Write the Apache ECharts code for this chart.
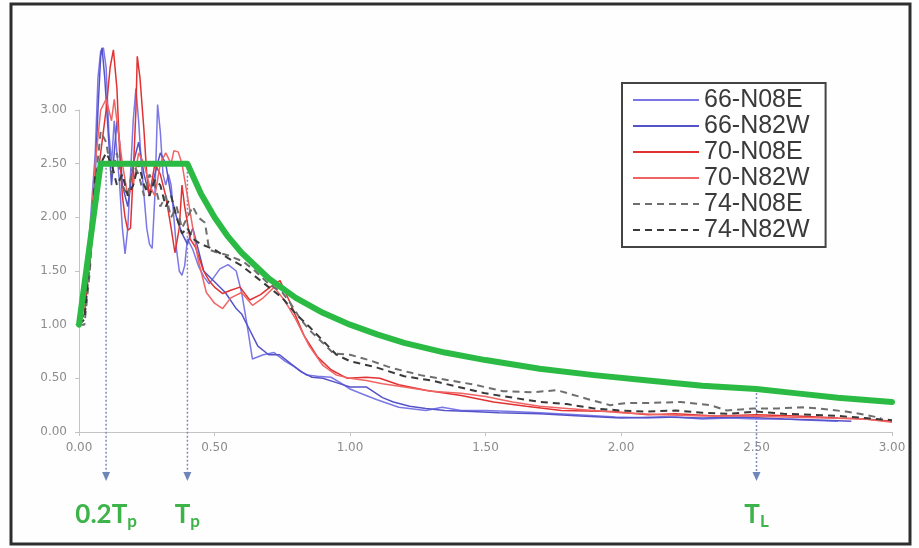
<!DOCTYPE html>
<html>
<head>
<meta charset="utf-8">
<title>Response spectra</title>
<script src="https://cdn.jsdelivr.net/npm/echarts@6/dist/echarts.min.js"></script>
<style>
  html, body { margin: 0; padding: 0; background: #fff; }
  #chart { width: 919px; height: 548px; }
</style>
</head>
<body>
<div id="chart"></div>
<script>
// tick labels
var xTicks = [0, 0.5, 1.0, 1.5, 2.0, 2.5, 3.0]
var yTicks = [0, 0.5, 1.0, 1.5, 2.0, 2.5, 3.0]

// recorded spectra [T, Sa/PGA]
var s66N08E = [[0,1.0],[0.02,1.3],[0.04,1.9],[0.06,2.6],[0.07,3.3],[0.08,3.55],[0.09,3.58],[0.10,3.4],[0.11,2.8],[0.12,2.5],[0.13,2.9],[0.14,2.6],[0.15,2.3],[0.16,1.9],[0.17,1.66],[0.18,1.9],[0.19,2.4],[0.2,2.9],[0.21,3.2],[0.22,2.9],[0.23,2.5],[0.24,2.2],[0.25,1.9],[0.26,1.75],[0.27,1.71],[0.28,2.2],[0.29,3.05],[0.30,2.8],[0.31,2.4],[0.32,2.3],[0.33,2.4],[0.34,2.3],[0.35,2.0],[0.36,1.7],[0.37,1.5],[0.38,1.46],[0.39,1.55],[0.40,1.8],[0.42,1.7],[0.44,1.55],[0.46,1.45],[0.48,1.38],[0.50,1.45],[0.52,1.52],[0.55,1.56],[0.58,1.5],[0.6,1.3],[0.62,1.0],[0.64,0.68],[0.68,0.72],[0.72,0.74],[0.76,0.66],[0.8,0.6],[0.84,0.53],[0.88,0.52],[0.93,0.51],[0.97,0.45],[1.0,0.40],[1.05,0.35],[1.1,0.30],[1.18,0.23],[1.28,0.20],[1.34,0.23],[1.41,0.20],[1.5,0.2],[1.6,0.19],[1.7,0.18],[1.84,0.16],[1.98,0.14],[2.1,0.13],[2.2,0.14],[2.3,0.12],[2.4,0.13],[2.5,0.12],[2.6,0.12],[2.7,0.11],[2.8,0.1]]
var s66N82W = [[0,1.0],[0.02,1.2],[0.04,1.7],[0.06,2.4],[0.07,3.0],[0.08,3.5],[0.085,3.58],[0.095,3.3],[0.11,2.7],[0.12,2.3],[0.13,2.6],[0.14,2.9],[0.15,2.7],[0.16,2.3],[0.18,2.1],[0.2,2.5],[0.22,2.7],[0.24,2.4],[0.26,2.2],[0.28,2.4],[0.30,2.6],[0.32,2.5],[0.34,2.2],[0.36,2.0],[0.38,1.85],[0.40,1.75],[0.42,1.9],[0.44,1.7],[0.46,1.5],[0.5,1.4],[0.54,1.3],[0.58,1.15],[0.6,1.1],[0.63,0.95],[0.66,0.8],[0.7,0.72],[0.74,0.72],[0.78,0.64],[0.82,0.56],[0.86,0.51],[0.9,0.5],[0.95,0.46],[1.0,0.42],[1.06,0.42],[1.12,0.32],[1.16,0.28],[1.22,0.24],[1.28,0.22],[1.35,0.2],[1.45,0.19],[1.55,0.18],[1.7,0.17],[1.85,0.15],[2.0,0.13],[2.15,0.14],[2.3,0.13],[2.45,0.14],[2.6,0.12],[2.75,0.11],[2.85,0.1]]
var s70N08E = [[0,1.0],[0.02,1.1],[0.04,1.6],[0.06,2.2],[0.08,2.6],[0.1,3.0],[0.115,3.4],[0.127,3.56],[0.14,3.2],[0.15,2.6],[0.16,2.2],[0.17,2.0],[0.18,1.88],[0.19,1.9],[0.2,2.4],[0.21,3.0],[0.215,3.5],[0.225,3.3],[0.24,2.8],[0.25,2.4],[0.26,2.2],[0.28,2.5],[0.3,2.4],[0.32,2.2],[0.34,1.9],[0.354,1.67],[0.37,1.9],[0.38,2.3],[0.39,2.1],[0.41,1.8],[0.43,1.72],[0.46,1.5],[0.48,1.41],[0.5,1.35],[0.53,1.29],[0.56,1.32],[0.594,1.35],[0.63,1.23],[0.67,1.28],[0.705,1.35],[0.742,1.41],[0.78,1.2],[0.83,0.9],[0.88,0.7],[0.93,0.58],[0.99,0.5],[1.06,0.51],[1.11,0.5],[1.18,0.44],[1.28,0.39],[1.41,0.34],[1.53,0.28],[1.65,0.24],[1.78,0.2],[1.97,0.19],[2.1,0.16],[2.2,0.17],[2.35,0.15],[2.5,0.16],[2.65,0.15],[2.8,0.13],[2.9,0.12],[3.0,0.1]]
var s70N82W = [[0,1.0],[0.02,1.2],[0.04,1.8],[0.06,2.5],[0.08,3.0],[0.1,3.1],[0.12,2.9],[0.13,3.1],[0.14,2.9],[0.16,2.5],[0.18,2.2],[0.2,2.3],[0.22,2.6],[0.24,2.5],[0.26,2.3],[0.28,2.2],[0.3,2.5],[0.32,2.6],[0.34,2.5],[0.35,2.62],[0.366,2.61],[0.38,2.5],[0.4,2.2],[0.42,1.9],[0.44,1.6],[0.47,1.3],[0.5,1.2],[0.53,1.15],[0.56,1.25],[0.6,1.3],[0.64,1.18],[0.68,1.25],[0.72,1.35],[0.76,1.22],[0.8,1.05],[0.85,0.8],[0.9,0.62],[0.95,0.53],[1.0,0.5],[1.06,0.48],[1.12,0.45],[1.2,0.42],[1.3,0.38],[1.41,0.36],[1.5,0.33],[1.6,0.28],[1.7,0.24],[1.8,0.22],[1.9,0.2],[2.0,0.18],[2.15,0.16],[2.3,0.15],[2.45,0.15],[2.6,0.14],[2.75,0.13],[2.9,0.12],[3.0,0.09]]
var s74N08E = [[0,1.0],[0.02,1.0],[0.04,1.5],[0.06,2.3],[0.08,2.8],[0.1,2.7],[0.12,2.4],[0.14,2.6],[0.16,2.3],[0.18,2.2],[0.2,2.5],[0.22,2.4],[0.24,2.2],[0.26,2.4],[0.28,2.3],[0.3,2.1],[0.32,2.2],[0.34,2.0],[0.36,2.1],[0.38,1.9],[0.4,2.0],[0.42,2.1],[0.44,2.0],[0.465,1.95],[0.48,1.7],[0.5,1.68],[0.545,1.65],[0.605,1.59],[0.65,1.5],[0.7,1.38],[0.75,1.3],[0.78,1.2],[0.815,1.06],[0.85,0.95],[0.9,0.83],[0.94,0.73],[1.0,0.72],[1.07,0.67],[1.15,0.6],[1.26,0.53],[1.37,0.48],[1.46,0.44],[1.565,0.38],[1.676,0.37],[1.763,0.39],[1.873,0.31],[1.96,0.25],[2.02,0.27],[2.1,0.27],[2.22,0.28],[2.33,0.25],[2.39,0.2],[2.49,0.22],[2.58,0.22],[2.67,0.23],[2.73,0.22],[2.83,0.19],[2.88,0.17],[2.96,0.13]]
var s74N82W = [[0,1.0],[0.02,1.05],[0.04,1.6],[0.06,2.4],[0.08,2.5],[0.1,2.6],[0.12,2.5],[0.14,2.3],[0.16,2.4],[0.18,2.2],[0.2,2.3],[0.22,2.5],[0.24,2.3],[0.26,2.2],[0.28,2.35],[0.3,2.3],[0.32,2.1],[0.34,2.2],[0.36,2.0],[0.38,1.85],[0.4,1.9],[0.42,1.8],[0.45,1.75],[0.5,1.7],[0.55,1.62],[0.6,1.55],[0.65,1.45],[0.7,1.35],[0.75,1.25],[0.8,1.1],[0.85,0.98],[0.9,0.85],[0.95,0.72],[1.0,0.66],[1.1,0.6],[1.2,0.52],[1.3,0.48],[1.4,0.42],[1.5,0.36],[1.6,0.32],[1.7,0.28],[1.8,0.26],[1.9,0.22],[2.0,0.2],[2.1,0.19],[2.2,0.2],[2.3,0.18],[2.4,0.17],[2.5,0.19],[2.6,0.17],[2.7,0.16],[2.8,0.15],[2.9,0.13],[3.0,0.11]]

// design spectrum (green)
var design = [[0,1.0],[0.08,2.5],[0.4,2.5],[0.45,2.22],[0.5,2.0],[0.55,1.82],[0.6,1.67],[0.7,1.43],[0.8,1.25],[0.9,1.11],[1.0,1.0],[1.1,0.91],[1.2,0.83],[1.35,0.74],[1.5,0.67],[1.7,0.59],[1.9,0.53],[2.1,0.48],[2.3,0.43],[2.5,0.40],[2.65,0.36],[2.8,0.32],[3.0,0.28]]

// period markers under the axis
var markT = [0.1, 0.4, 2.5]
var markTop = [2.5, 2.5, 0.4]
var markMain = ['0.2T', 'T', 'T']
var markSub = ['p', 'p', 'L']

var names = ['66-N08E', '66-N82W', '70-N08E', '70-N82W', '74-N08E', '74-N82W']
var records = [s66N08E, s66N82W, s70N08E, s70N82W, s74N08E, s74N82W]
var styles = [
  { color: '#7b78e6', width: 1.5, type: 'solid' },
  { color: '#5553c9', width: 1.5, type: 'solid' },
  { color: '#e03232', width: 1.5, type: 'solid' },
  { color: '#f06464', width: 1.5, type: 'solid' },
  { color: '#6e6e6e', width: 2, type: [7, 5] },
  { color: '#3a3a3a', width: 2, type: [7, 5] }
]

var chart = echarts.init(document.getElementById('chart'))

var series = records.map(function (d, i) {
  return {
    name: names[i],
    type: 'line',
    data: d,
    symbol: 'none',
    clip: false,
    z: 2,
    lineStyle: styles[i],
    itemStyle: { color: styles[i].color }
  }
})
series.push({
  name: 'design',
  type: 'line',
  data: design,
  symbol: 'none',
  clip: false,
  z: 3,
  lineStyle: { color: '#2bbb45', width: 6, cap: 'round', join: 'round' }
})

var axisLbl = {
  color: '#8c8c8c',
  fontFamily: 'DejaVu Sans',
  fontSize: 12,
  formatter: function (v) { return v.toFixed(2) }
}

chart.setOption({
  backgroundColor: '#fffefe',
  animation: false,
  grid: { left: 79, right: 27, top: 110, bottom: 116 },
  legend: {
    data: names,
    orient: 'vertical',
    left: 622,
    top: 83,
    backgroundColor: '#fff',
    borderColor: '#444',
    borderWidth: 2,
    padding: [4, 16, 4, 10],
    itemWidth: 66,
    itemHeight: 14,
    itemGap: 0,
    itemTextGap: 8,
    itemStyle: { opacity: 0 },
    textStyle: {
      fontFamily: 'Liberation Sans',
      fontSize: 25,
      lineHeight: 26,
      color: '#3a3a3a'
    }
  },
  xAxis: {
    type: 'value',
    min: xTicks[0],
    max: xTicks[xTicks.length - 1],
    interval: 0.5,
    splitLine: { show: false },
    axisLine: { lineStyle: { color: '#c4c4c4' } },
    axisTick: { length: 4, lineStyle: { color: '#c4c4c4' } },
    axisLabel: Object.assign({ margin: 10 }, axisLbl)
  },
  yAxis: {
    type: 'value',
    min: yTicks[0],
    max: yTicks[yTicks.length - 1],
    interval: 0.5,
    splitLine: { show: false },
    axisLine: { show: true, lineStyle: { color: '#c4c4c4' } },
    axisTick: { show: true, length: 4, lineStyle: { color: '#c4c4c4' } },
    axisLabel: Object.assign({ margin: 12 }, axisLbl)
  },
  series: series
})

// frame, dotted arrows and period labels
var graphics = [{
  type: 'rect',
  shape: { x: 11, y: 4, width: 899, height: 540 },
  style: { fill: 'none', stroke: '#2e2e2e', lineWidth: 3 },
  z: 100
}]
var arrowTip = 481
markT.forEach(function (t, i) {
  var top = chart.convertToPixel({ gridIndex: 0 }, [t, markTop[i]])
  var x = top[0]
  graphics.push({
    type: 'line',
    shape: { x1: x, y1: top[1], x2: x, y2: arrowTip - 8 },
    style: { stroke: '#7d8db5', lineWidth: 1.5, lineDash: [2, 2] },
    z: 1
  })
  graphics.push({
    type: 'polygon',
    shape: { points: [[x - 4, arrowTip - 9], [x + 4, arrowTip - 9], [x, arrowTip]] },
    style: { fill: '#6f86b8' },
    z: 1
  })
  graphics.push({
    type: 'text',
    x: x,
    y: 515,
    style: {
      text: markMain[i] + '{s|' + markSub[i] + '}',
      fill: '#3cb44a',
      font: 'bold 26px Lato',
      align: 'center',
      verticalAlign: 'middle',
      rich: {
        s: { fill: '#3cb44a', fontFamily: 'Lato', fontWeight: 'bold', fontSize: 17, padding: [14, 0, 0, 0] }
      }
    },
    z: 10
  })
})
chart.setOption({ graphic: graphics })
</script>
</body>
</html>
